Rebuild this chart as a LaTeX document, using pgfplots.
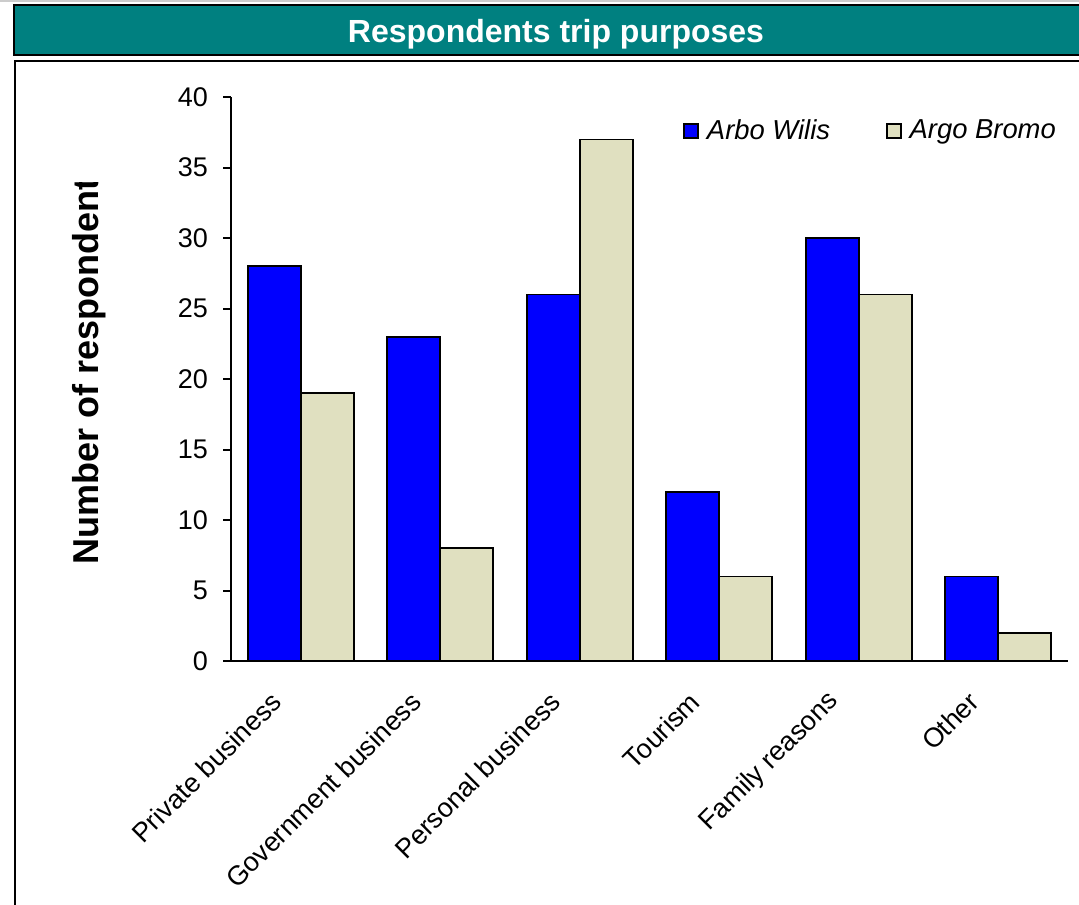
\documentclass[border=0pt]{standalone}
\usepackage{fontspec}
\setmainfont{Liberation Sans}
\usepackage{pgfplots}
\pgfplotsset{compat=1.18}
\definecolor{tealbar}{RGB}{0,128,128}
\definecolor{beige}{RGB}{224,224,192}
\definecolor{barblue}{RGB}{0,0,255}
\pgfplotsset{sqlegend/.style={legend image code/.code={\draw[##1] (0pt,-3.5pt) rectangle (7pt,3.5pt);\path (9pt,0pt);}}}
\begin{document}
\begin{tikzpicture}[x=1pt,y=1pt]
\clip (0,0) rectangle (539.5,452);
\fill[white] (0,0) rectangle (539.5,452);
\draw[gray!40, line width=1pt] (0,451.5) -- (539.5,451.5);
% title bar
\draw[fill=tealbar, line width=1pt] (7,449.5) rectangle (560,424.5);
\node[text=white, font=\fontsize{16}{19}\selectfont\bfseries] at (278,435) {Respondents trip purposes};
% border box
\draw[line width=1pt] (7.5,421.5) rectangle (560,-10);
% y label (clipped as in the original)
\begin{scope}
\clip (0,0) rectangle (539.5,360.5);
\node[rotate=90, anchor=base west, inner sep=0pt, font=\fontsize{18}{21}\selectfont\bfseries] at (49,169.5) {Number of respondents};
\end{scope}
\begin{axis}[
  at={(115.5pt,121.5pt)}, anchor=south west,
  scale only axis, width=418.5pt, height=282pt,
  xmin=-0.5, xmax=5.5, ymin=0, ymax=40,
  axis lines*=left,
  axis line style={line width=1pt},
  ybar=0pt, bar width=0.38,
  xtick=data,
  xticklabels={Private business,Government business,Personal business,Tourism,Family reasons,Other},
  x tick style={draw=none},
  ytick={0,5,...,40},
  y tick style={line width=1pt, black},
  tick align=outside,
  major tick length=4pt,
  /pgf/number format/assume math mode=true,
  tick label style={font=\fontsize{13.5}{16}\selectfont},
  yticklabel style={xshift=-4pt},
  xticklabel style={xshift=-12pt, yshift=-14pt, rotate=45, anchor=east, inner sep=0pt},
  legend columns=2,
  legend style={draw=none, fill=none, at={(0.54,0.94)}, anchor=west, inner sep=0pt,
    font=\fontsize{13.7}{16}\selectfont\itshape,
    /tikz/every even column/.append style={column sep=26pt}},
]
\addplot[fill=barblue, draw=black, line width=0.8pt, sqlegend]
  coordinates {(0,28) (1,23) (2,26) (3,12) (4,30) (5,6)};
\addlegendentry{Arbo Wilis}
\addplot[fill=beige, draw=black, line width=0.8pt, sqlegend]
  coordinates {(0,19) (1,8) (2,37) (3,6) (4,26) (5,2)};
\addlegendentry{Argo Bromo}
\end{axis}
\end{tikzpicture}
\end{document}
